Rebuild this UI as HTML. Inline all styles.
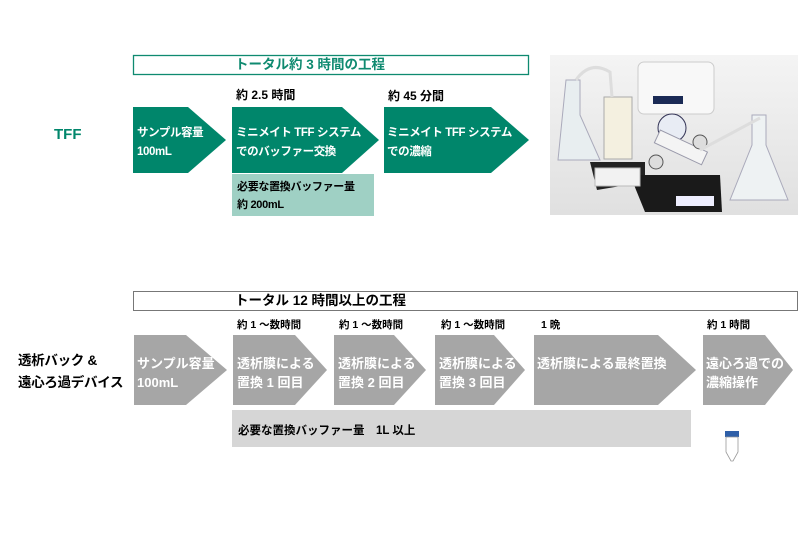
<!DOCTYPE html>
<html><head><meta charset="utf-8"><style>
body{margin:0;width:800px;height:533px;background:#fff;position:relative;overflow:hidden;font-family:"Liberation Sans","Noto Sans CJK JP",sans-serif;font-weight:bold}
.a{position:absolute;white-space:nowrap}
.w{color:#fff;font-size:12.5px;line-height:19px}
.t{font-size:11.5px;letter-spacing:-0.4px}
</style></head><body>
<svg width="800" height="533" style="position:absolute;left:0;top:0">
<defs><linearGradient id="g" x1="0" y1="0" x2="0" y2="1"><stop offset="0" stop-color="#f4f4f4"/><stop offset="1" stop-color="#e0e0e0"/></linearGradient></defs>
<rect x="133.5" y="55.5" width="395" height="19" fill="#fff" stroke="#0f8a70" stroke-width="1.3"/>
<polygon points="133,107 188,107 226,140 188,173 133,173" fill="#00866b"/>
<polygon points="232,107 342,107 379,140 342,173 232,173" fill="#00866b"/>
<polygon points="384,107 491,107 529,140 491,173 384,173" fill="#00866b"/>
<rect x="232" y="174" width="142" height="42" fill="#9fd0c4"/>
<rect x="133.5" y="291.5" width="664" height="19" fill="#fff" stroke="#777" stroke-width="1"/>
<g fill="#a6a6a6">
<polygon points="134,335 186,335 227,370 186,405 134,405"/>
<polygon points="233,335 295,335 327,370 295,405 233,405"/>
<polygon points="334,335 394,335 426,370 394,405 334,405"/>
<polygon points="435,335 494,335 525,370 494,405 435,405"/>
<polygon points="534,335 658,335 696,370 658,405 534,405"/>
<polygon points="703,335 765,335 793,370 765,405 703,405"/>
</g>
<rect x="232" y="410" width="459" height="37" fill="#d6d6d6"/>
<rect x="725" y="431" width="14" height="6" fill="#2f5fa8"/>
<path d="M726,437 L738,437 L738,452 L733,461 L731,461 L726,452 Z" fill="#fff" stroke="#999" stroke-width="0.8"/>
<rect x="550" y="55" width="248" height="160" fill="url(#g)"/>
<rect x="638" y="62" width="76" height="52" rx="6" fill="#f8f8f8" stroke="#ccc"/>
<rect x="653" y="96" width="30" height="8" fill="#1a2a55"/>
<path d="M566,80 L580,80 L580,115 L600,160 L558,160 Z" fill="#e8eef0" stroke="#aab" stroke-width="1"/>
<rect x="604" y="97" width="28" height="62" fill="#f4f0e0" stroke="#aaa"/>
<path d="M590,162 L645,162 L645,182 L597,190 Z" fill="#222"/>
<path d="M630,175 L720,175 L722,212 L645,212 Z" fill="#1a1a1a"/>
<rect x="595" y="168" width="45" height="18" fill="#f2f2f2" stroke="#bbb"/>
<circle cx="672" cy="128" r="14" fill="#e8ecf4" stroke="#335"/>
<rect x="655" y="140" width="52" height="14" fill="#f4f4f4" stroke="#99a" transform="rotate(25 680 147)"/>
<circle cx="656" cy="162" r="7" fill="#ddd" stroke="#555"/>
<circle cx="700" cy="142" r="7" fill="#ddd" stroke="#555"/>
<rect x="676" y="196" width="38" height="10" fill="#eef"/>
<path d="M752,115 L766,115 L766,145 L788,200 L730,200 L752,145 Z" fill="#eef2f3" stroke="#aab"/>
<path d="M576,80 Q590,60 610,72 L612,97" fill="none" stroke="#ddd" stroke-width="3"/>
<path d="M700,150 L760,118" fill="none" stroke="#ddd" stroke-width="3"/>
</svg>

<div class="a" style="left:235px;top:56px;font-size:13.5px;color:#0f8a70;line-height:18px">トータル約 3 時間の工程</div>
<div class="a" style="left:236px;top:86px;font-size:12px">約 2.5 時間</div>
<div class="a" style="left:388px;top:87px;font-size:12px">約 45 分間</div>
<div class="a" style="left:54px;top:126px;font-size:15px;color:#00866b">TFF</div>
<div class="a w t" style="left:137px;top:124px">サンプル容量<br>100mL</div>
<div class="a w t" style="left:236px;top:124px">ミニメイト TFF システム<br>でのバッファー交換</div>
<div class="a w t" style="left:387px;top:124px">ミニメイト TFF システム<br>での濃縮</div>
<div class="a" style="left:237px;top:178px;font-size:11px;line-height:18px;letter-spacing:-0.3px">必要な置換バッファー量<br>約 200mL</div>

<div class="a" style="left:235px;top:292px;font-size:13.5px;line-height:18px">トータル 12 時間以上の工程</div>
<div class="a" style="left:237px;top:317px;font-size:10.5px">約 1 ～数時間</div>
<div class="a" style="left:339px;top:317px;font-size:10.5px">約 1 ～数時間</div>
<div class="a" style="left:441px;top:317px;font-size:10.5px">約 1 ～数時間</div>
<div class="a" style="left:541px;top:317px;font-size:10.5px">1 晩</div>
<div class="a" style="left:707px;top:317px;font-size:10.5px">約 1 時間</div>
<div class="a" style="left:18px;top:350px;font-size:13.5px;line-height:22px;letter-spacing:-0.3px">透析バック &amp;<br>遠心ろ過デバイス</div>
<div class="a w" style="left:137px;top:354px;font-size:13px">サンプル容量<br>100mL</div>
<div class="a w" style="left:237px;top:354px;font-size:13px">透析膜による<br>置換 1 回目</div>
<div class="a w" style="left:338px;top:354px;font-size:13px">透析膜による<br>置換 2 回目</div>
<div class="a w" style="left:439px;top:354px;font-size:13px">透析膜による<br>置換 3 回目</div>
<div class="a w" style="left:537px;top:354px;font-size:13px">透析膜による最終置換</div>
<div class="a w" style="left:706px;top:354px;font-size:13px">遠心ろ過での<br>濃縮操作</div>
<div class="a" style="left:238px;top:422px;font-size:11.5px">必要な置換バッファー量　1L 以上</div>
</body></html>
